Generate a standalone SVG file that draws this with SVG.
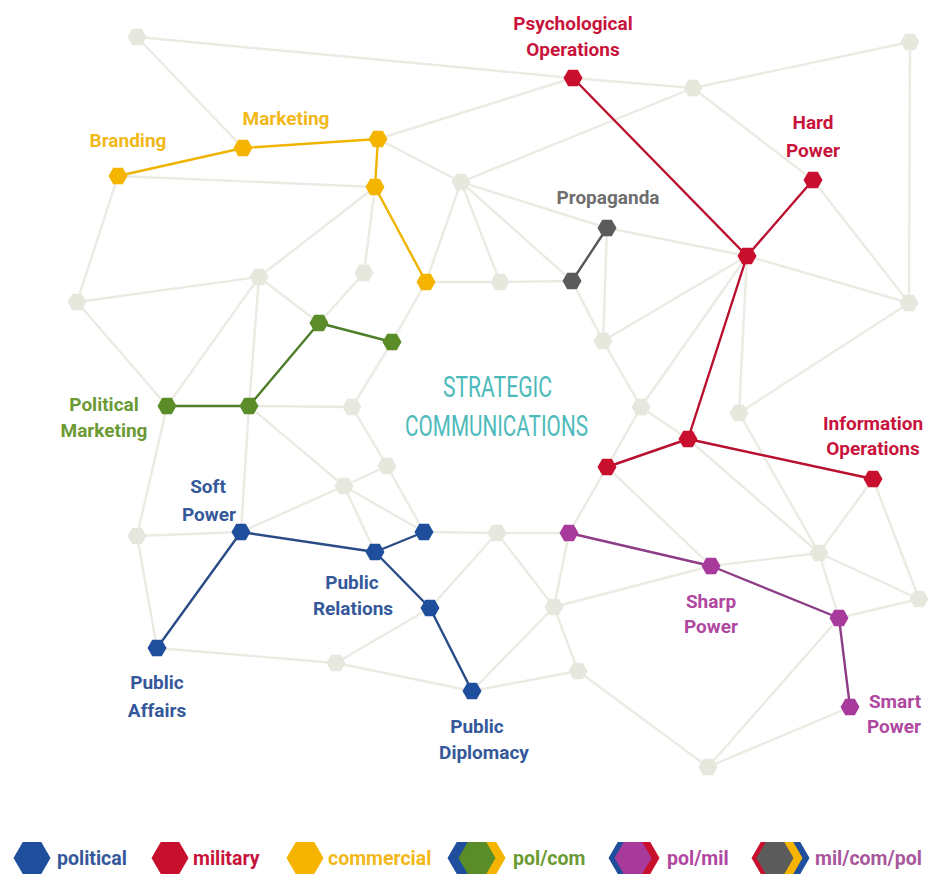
<svg xmlns="http://www.w3.org/2000/svg" xmlns:xlink="http://www.w3.org/1999/xlink" width="932" height="880" viewBox="0 0 932 880">
<style>
.e{stroke:#ebebe4;stroke-width:2.4;fill:none;stroke-linecap:round}
.c{stroke-width:2.4;fill:none;stroke-linecap:round}
.cy{stroke:#f0b400}.cr{stroke:#b8102e}.cg{stroke:#585858}.cgr{stroke:#4f7e2a}.cb{stroke:#2a4c86}.cm{stroke:#8e3c86}
.bg{fill:#e6e7dd}
.fy{fill:#f5b400}.fr{fill:#c8102e}.fgy{fill:#5b5b5b}.fgr{fill:#5a8c28}.fb{fill:#1f4f9c}.fm{fill:#a83a9c}
text{font-family:Roboto,"Liberation Sans",sans-serif;font-weight:bold;font-size:19px;text-anchor:middle;paint-order:stroke;stroke:#ffffff;stroke-width:3px;stroke-linejoin:round}
.ty{fill:#f2b81a}.tr{fill:#c8143c}.tgy{fill:#6e6e6e}.tgr{fill:#6b9a34}.tb{fill:#34589a}.tm{fill:#b0479f}.tmp{fill:#a8579c}
.title{font-weight:normal;font-size:29px;fill:#4cbaba;stroke:none}
.lg{text-anchor:start;font-size:19.5px;stroke:none}
</style>
<defs>
<polygon id="hx" points="9.5,0 4.75,8.2 -4.75,8.2 -9.5,0 -4.75,-8.2 4.75,-8.2"/>
<polygon id="hl" points="18.5,0 9.25,16 -9.25,16 -18.5,0 -9.25,-16 9.25,-16"/>
</defs>
<rect width="932" height="880" fill="#ffffff"/>
<g id="connectors">
<g id="background-edges">
<line class="e" x1="137" y1="37" x2="573" y2="78"/>
<line class="e" x1="137" y1="37" x2="243" y2="148"/>
<line class="e" x1="573" y1="78" x2="693" y2="88"/>
<line class="e" x1="573" y1="78" x2="378" y2="139"/>
<line class="e" x1="693" y1="88" x2="910" y2="42"/>
<line class="e" x1="693" y1="88" x2="461" y2="182"/>
<line class="e" x1="693" y1="88" x2="813" y2="180"/>
<line class="e" x1="910" y1="42" x2="909" y2="303"/>
<line class="e" x1="813" y1="180" x2="909" y2="303"/>
<line class="e" x1="747" y1="256" x2="909" y2="303"/>
<line class="e" x1="739" y1="413" x2="909" y2="303"/>
<line class="e" x1="378" y1="139" x2="461" y2="182"/>
<line class="e" x1="118" y1="176" x2="375" y2="187"/>
<line class="e" x1="118" y1="176" x2="77" y2="302"/>
<line class="e" x1="375" y1="187" x2="259" y2="277"/>
<line class="e" x1="375" y1="187" x2="364" y2="273"/>
<line class="e" x1="461" y1="182" x2="426" y2="282"/>
<line class="e" x1="461" y1="182" x2="607" y2="228"/>
<line class="e" x1="607" y1="228" x2="747" y2="256"/>
<line class="e" x1="461" y1="182" x2="500" y2="282"/>
<line class="e" x1="461" y1="182" x2="572" y2="281"/>
<line class="e" x1="426" y1="282" x2="500" y2="282"/>
<line class="e" x1="500" y1="282" x2="572" y2="281"/>
<line class="e" x1="607" y1="228" x2="603" y2="341"/>
<line class="e" x1="572" y1="281" x2="603" y2="341"/>
<line class="e" x1="603" y1="341" x2="747" y2="256"/>
<line class="e" x1="603" y1="341" x2="641" y2="407"/>
<line class="e" x1="641" y1="407" x2="747" y2="256"/>
<line class="e" x1="641" y1="407" x2="688" y2="439"/>
<line class="e" x1="641" y1="407" x2="607" y2="467"/>
<line class="e" x1="747" y1="256" x2="739" y2="413"/>
<line class="e" x1="739" y1="413" x2="819" y2="553"/>
<line class="e" x1="688" y1="439" x2="819" y2="553"/>
<line class="e" x1="873" y1="479" x2="819" y2="553"/>
<line class="e" x1="873" y1="479" x2="919" y2="599"/>
<line class="e" x1="819" y1="553" x2="919" y2="599"/>
<line class="e" x1="819" y1="553" x2="711" y2="566"/>
<line class="e" x1="819" y1="553" x2="839" y2="618"/>
<line class="e" x1="839" y1="618" x2="919" y2="599"/>
<line class="e" x1="607" y1="467" x2="711" y2="566"/>
<line class="e" x1="607" y1="467" x2="569" y2="533"/>
<line class="e" x1="569" y1="533" x2="497" y2="533"/>
<line class="e" x1="497" y1="533" x2="424" y2="532"/>
<line class="e" x1="497" y1="533" x2="554" y2="607"/>
<line class="e" x1="497" y1="533" x2="430" y2="608"/>
<line class="e" x1="554" y1="607" x2="569" y2="533"/>
<line class="e" x1="554" y1="607" x2="711" y2="566"/>
<line class="e" x1="554" y1="607" x2="578" y2="671"/>
<line class="e" x1="554" y1="607" x2="472" y2="691"/>
<line class="e" x1="472" y1="691" x2="578" y2="671"/>
<line class="e" x1="578" y1="671" x2="708" y2="767"/>
<line class="e" x1="708" y1="767" x2="839" y2="618"/>
<line class="e" x1="708" y1="767" x2="850" y2="707"/>
<line class="e" x1="336" y1="663" x2="472" y2="691"/>
<line class="e" x1="336" y1="663" x2="430" y2="608"/>
<line class="e" x1="157" y1="648" x2="336" y2="663"/>
<line class="e" x1="137" y1="536" x2="157" y2="648"/>
<line class="e" x1="137" y1="536" x2="241" y2="532"/>
<line class="e" x1="137" y1="536" x2="167" y2="406"/>
<line class="e" x1="77" y1="302" x2="167" y2="406"/>
<line class="e" x1="77" y1="302" x2="259" y2="277"/>
<line class="e" x1="259" y1="277" x2="167" y2="406"/>
<line class="e" x1="259" y1="277" x2="249" y2="406"/>
<line class="e" x1="259" y1="277" x2="319" y2="323"/>
<line class="e" x1="364" y1="273" x2="319" y2="323"/>
<line class="e" x1="426" y1="282" x2="392" y2="342"/>
<line class="e" x1="392" y1="342" x2="352" y2="407"/>
<line class="e" x1="249" y1="406" x2="352" y2="407"/>
<line class="e" x1="249" y1="406" x2="344" y2="486"/>
<line class="e" x1="249" y1="406" x2="241" y2="532"/>
<line class="e" x1="352" y1="407" x2="387" y2="466"/>
<line class="e" x1="387" y1="466" x2="344" y2="486"/>
<line class="e" x1="387" y1="466" x2="424" y2="532"/>
<line class="e" x1="344" y1="486" x2="241" y2="532"/>
<line class="e" x1="344" y1="486" x2="375" y2="552"/>
<line class="e" x1="344" y1="486" x2="424" y2="532"/>
</g>
<g id="colored-edges">
<line class="c cy" x1="118" y1="176" x2="243" y2="148"/>
<line class="c cy" x1="243" y1="148" x2="378" y2="139"/>
<line class="c cy" x1="378" y1="139" x2="375" y2="187"/>
<line class="c cy" x1="375" y1="187" x2="426" y2="282"/>
<line class="c cr" x1="573" y1="78" x2="747" y2="256"/>
<line class="c cr" x1="813" y1="180" x2="747" y2="256"/>
<line class="c cr" x1="747" y1="256" x2="688" y2="439"/>
<line class="c cr" x1="688" y1="439" x2="607" y2="467"/>
<line class="c cr" x1="688" y1="439" x2="873" y2="479"/>
<line class="c cg" x1="607" y1="228" x2="572" y2="281"/>
<line class="c cgr" x1="167" y1="406" x2="249" y2="406"/>
<line class="c cgr" x1="249" y1="406" x2="319" y2="323"/>
<line class="c cgr" x1="319" y1="323" x2="392" y2="342"/>
<line class="c cb" x1="241" y1="532" x2="375" y2="552"/>
<line class="c cb" x1="375" y1="552" x2="424" y2="532"/>
<line class="c cb" x1="375" y1="552" x2="430" y2="608"/>
<line class="c cb" x1="430" y1="608" x2="472" y2="691"/>
<line class="c cb" x1="241" y1="532" x2="157" y2="648"/>
<line class="c cm" x1="569" y1="533" x2="711" y2="566"/>
<line class="c cm" x1="711" y1="566" x2="839" y2="618"/>
<line class="c cm" x1="839" y1="618" x2="850" y2="707"/>
</g>
</g>
<g id="background-nodes" class="bg">
<use id="n1" href="#hx" x="137" y="37"/>
<use id="n2" href="#hx" x="910" y="42"/>
<use id="n3" href="#hx" x="693" y="88"/>
<use id="n4" href="#hx" x="461" y="182"/>
<use id="n5" href="#hx" x="259" y="277"/>
<use id="n6" href="#hx" x="364" y="273"/>
<use id="n7" href="#hx" x="77" y="302"/>
<use id="n8" href="#hx" x="500" y="282"/>
<use id="n9" href="#hx" x="909" y="303"/>
<use id="n10" href="#hx" x="603" y="341"/>
<use id="n11" href="#hx" x="352" y="407"/>
<use id="n12" href="#hx" x="641" y="407"/>
<use id="n13" href="#hx" x="739" y="413"/>
<use id="n14" href="#hx" x="387" y="466"/>
<use id="n15" href="#hx" x="344" y="486"/>
<use id="n16" href="#hx" x="137" y="536"/>
<use id="n17" href="#hx" x="497" y="533"/>
<use id="n18" href="#hx" x="819" y="553"/>
<use id="n19" href="#hx" x="919" y="599"/>
<use id="n20" href="#hx" x="554" y="607"/>
<use id="n21" href="#hx" x="336" y="663"/>
<use id="n22" href="#hx" x="578" y="671"/>
<use id="n23" href="#hx" x="708" y="767"/>
</g>
<g id="branding"><use class="fy" href="#hx" x="118" y="176"/><text class="ty" x="128" y="147">Branding</text></g>
<g id="marketing"><use class="fy" href="#hx" x="243" y="148"/><text class="ty" x="286" y="125">Marketing</text></g>
<g id="commercial-3"><use class="fy" href="#hx" x="378" y="139"/></g>
<g id="commercial-4"><use class="fy" href="#hx" x="375" y="187"/></g>
<g id="commercial-5"><use class="fy" href="#hx" x="426" y="282"/></g>
<g id="psychological-operations"><use class="fr" href="#hx" x="573" y="78"/><text class="tr" x="573" y="30">Psychological</text><text class="tr" x="573" y="56">Operations</text></g>
<g id="hard-power"><use class="fr" href="#hx" x="813" y="180"/><text class="tr" x="813" y="129">Hard</text><text class="tr" x="813" y="157">Power</text></g>
<g id="military-hub"><use class="fr" href="#hx" x="747" y="256"/></g>
<g id="military-4"><use class="fr" href="#hx" x="688" y="439"/></g>
<g id="military-5"><use class="fr" href="#hx" x="607" y="467"/></g>
<g id="information-operations"><use class="fr" href="#hx" x="873" y="479"/><text class="tr" x="873" y="430">Information</text><text class="tr" x="873" y="455">Operations</text></g>
<g id="propaganda"><use class="fgy" href="#hx" x="607" y="228"/><text class="tgy" x="608" y="204">Propaganda</text></g>
<g id="propaganda-2"><use class="fgy" href="#hx" x="572" y="281"/></g>
<g id="political-marketing"><use class="fgr" href="#hx" x="167" y="406"/><text class="tgr" x="104" y="411">Political</text><text class="tgr" x="104" y="437">Marketing</text></g>
<g id="polcom-2"><use class="fgr" href="#hx" x="249" y="406"/></g>
<g id="polcom-3"><use class="fgr" href="#hx" x="319" y="323"/></g>
<g id="polcom-4"><use class="fgr" href="#hx" x="392" y="342"/></g>
<g id="soft-power"><use class="fb" href="#hx" x="241" y="532"/><text class="tb" x="208" y="493">Soft</text><text class="tb" x="209" y="521">Power</text></g>
<g id="public-relations"><use class="fb" href="#hx" x="375" y="552"/><text class="tb" x="352" y="589">Public</text><text class="tb" x="353" y="615">Relations</text></g>
<g id="political-3"><use class="fb" href="#hx" x="424" y="532"/></g>
<g id="political-4"><use class="fb" href="#hx" x="430" y="608"/></g>
<g id="public-affairs"><use class="fb" href="#hx" x="157" y="648"/><text class="tb" x="157" y="689">Public</text><text class="tb" x="157" y="717">Affairs</text></g>
<g id="public-diplomacy"><use class="fb" href="#hx" x="472" y="691"/><text class="tb" x="477" y="733">Public</text><text class="tb" x="484" y="759">Diplomacy</text></g>
<g id="polmil-1"><use class="fm" href="#hx" x="569" y="533"/></g>
<g id="sharp-power"><use class="fm" href="#hx" x="711" y="566"/><text class="tm" x="711" y="608">Sharp</text><text class="tm" x="711" y="633">Power</text></g>
<g id="polmil-3"><use class="fm" href="#hx" x="839" y="618"/></g>
<g id="smart-power"><use class="fm" href="#hx" x="850" y="707"/><text class="tm" x="895" y="708">Smart</text><text class="tm" x="894" y="733">Power</text></g>
<g id="title">
<text class="title" x="497.5" y="397" textLength="109" lengthAdjust="spacingAndGlyphs">STRATEGIC</text>
<text class="title" x="496.5" y="436" textLength="183" lengthAdjust="spacingAndGlyphs">COMMUNICATIONS</text>
</g>
<g id="legend">
<g id="legend-political"><use class="fb" href="#hl" x="32" y="858"/><text class="lg tb" x="57" y="865">political</text></g>
<g id="legend-military"><use class="fr" href="#hl" x="170" y="858"/><text class="lg tr" x="193" y="865">military</text></g>
<g id="legend-commercial"><use class="fy" href="#hl" x="305" y="858"/><text class="lg ty" x="328" y="865">commercial</text></g>
<g id="legend-polcom"><use class="fb" href="#hl" x="466" y="858"/><use class="fy" href="#hl" x="487" y="858"/><use class="fgr" href="#hl" x="477" y="858"/><text class="lg tgr" x="513" y="865">pol/com</text></g>
<g id="legend-polmil"><use class="fb" href="#hl" x="627" y="858"/><use class="fr" href="#hl" x="641" y="858"/><use class="fm" href="#hl" x="633" y="858"/><text class="lg tm" x="667" y="865">pol/mil</text></g>
<g id="legend-milcompol"><use class="fb" href="#hl" x="791" y="858"/><use class="fy" href="#hl" x="784" y="858"/><use class="fr" href="#hl" x="770" y="858"/><use class="fgy" href="#hl" x="775" y="858"/><text class="lg tmp" x="815" y="865">mil/com/pol</text></g>
</g>
</svg>
